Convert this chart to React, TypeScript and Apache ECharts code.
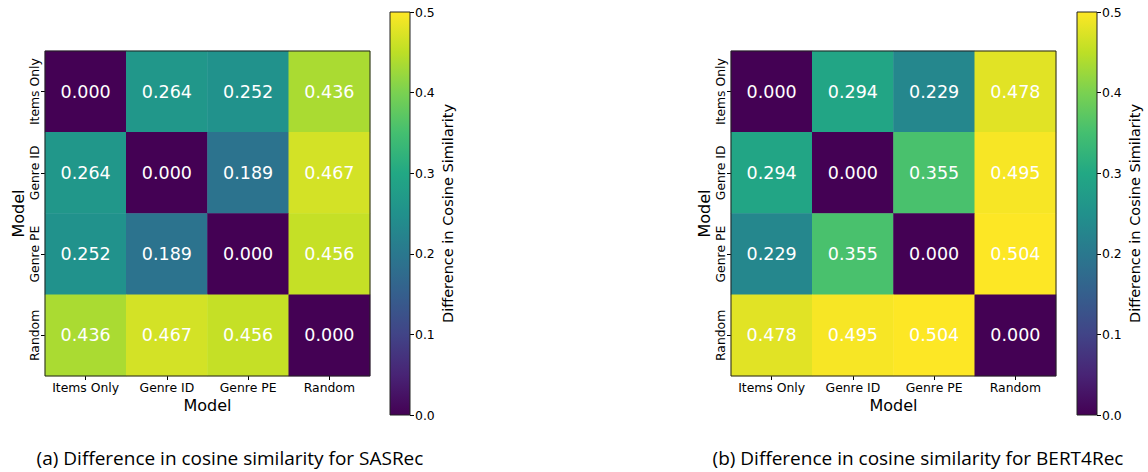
import React, { useEffect, useRef } from "react";
import * as echarts from "echarts";

const models = ["Items Only", "Genre ID", "Genre PE", "Random"];
const sasrecValues = [
  [0.0, 0.264, 0.252, 0.436],
  [0.264, 0.0, 0.189, 0.467],
  [0.252, 0.189, 0.0, 0.456],
  [0.436, 0.467, 0.456, 0.0],
];
const bertValues = [
  [0.0, 0.294, 0.229, 0.478],
  [0.294, 0.0, 0.355, 0.495],
  [0.229, 0.355, 0.0, 0.504],
  [0.478, 0.495, 0.504, 0.0],
];
const colorbarMin = 0;
const colorbarMax = 0.5;
const colorbarStep = 0.1;
const captions = [
  "(a) Difference in cosine similarity for SASRec",
  "(b) Difference in cosine similarity for BERT4Rec",
];
const axisTitle = "Model";
const colorbarTitle = "Difference in Cosine Similarity";

const viridis = [
  "#440154", "#482475", "#414487", "#355f8d", "#2a788e", "#21918c",
  "#22a884", "#44bf70", "#7ad151", "#bddf26", "#fde725",
];

const FONT = "DejaVu Sans";

function toCells(m: number[][]) {
  const out: any[] = [];
  m.forEach((row, r) => row.forEach((v, c) => out.push([c, r, Math.min(v, colorbarMax)])));
  return out;
}
function labelsOf(m: number[][]) {
  return m.map((row) => row.map((v) => v.toFixed(3)));
}

export default function App() {
  const ref = useRef<HTMLDivElement>(null);
  useEffect(() => {
    document.body.style.margin = "0";
    const chart = echarts.init(ref.current!, undefined, { renderer: "svg" });
    const mats = [sasrecValues, bertValues];
    const heatGrids = [
      { left: 45, top: 51, width: 325, height: 325 },
      { left: 731, top: 51, width: 325, height: 325 },
    ];
    const cbGrids = [
      { left: 390, top: 12, width: 20, height: 403 },
      { left: 1077, top: 12, width: 20, height: 403 },
    ];
    const grid: any[] = [];
    const xAxis: any[] = [];
    const yAxis: any[] = [];
    const series: any[] = [];
    const gradient = new echarts.graphic.LinearGradient(
      0, 1, 0, 0,
      viridis.map((c, i) => ({ offset: i / (viridis.length - 1), color: c }))
    );
    mats.forEach((m, k) => {
      const gi = grid.length;
      grid.push({ ...heatGrids[k], show: true, borderColor: "#222", borderWidth: 1, backgroundColor: "transparent", z: 5 });
      xAxis.push({
        type: "category", gridIndex: gi, data: models,
        axisLine: { show: false },
        axisTick: { show: true, alignWithLabel: true, interval: 0, length: 4, lineStyle: { color: "#000" } },
        axisLabel: { color: "#000", fontFamily: FONT, fontSize: 12.4, margin: 5, interval: 0 },
        splitLine: { show: false },
        name: axisTitle, nameLocation: "middle", nameGap: 20,
        nameTextStyle: { color: "#000", fontFamily: FONT, fontSize: 16 },
      });
      yAxis.push({
        type: "category", gridIndex: gi, data: models, inverse: true,
        axisLine: { show: false },
        axisTick: { show: true, alignWithLabel: true, interval: 0, length: 4, lineStyle: { color: "#000" } },
        axisLabel: { color: "#000", fontFamily: FONT, fontSize: 12.4, rotate: 90, margin: 5, interval: 0 },
        splitLine: { show: false },
        name: axisTitle, nameLocation: "middle", nameGap: 19, nameRotate: 90,
        nameTextStyle: { color: "#000", fontFamily: FONT, fontSize: 16 },
      });
      const labels = labelsOf(m);
      series.push({
        type: "heatmap", xAxisIndex: gi, yAxisIndex: gi,
        data: toCells(m),
        label: {
          show: true, color: "#fff", fontFamily: FONT, fontSize: 17.5,
          formatter: (p: any) => labels[p.data[1]][p.data[0]],
        },
        itemStyle: { borderWidth: 0 },
        emphasis: { disabled: true },
      });
      const ci = grid.length;
      grid.push({ ...cbGrids[k], show: true, borderColor: "#222", borderWidth: 1, backgroundColor: "transparent", z: 5 });
      xAxis.push({ type: "category", gridIndex: ci, data: ["cb"], show: false, boundaryGap: false });
      yAxis.push({
        type: "value", gridIndex: ci, position: "right",
        min: colorbarMin, max: colorbarMax, interval: colorbarStep,
        axisLine: { show: false },
        axisTick: { show: true, length: 4, lineStyle: { color: "#000" } },
        axisLabel: { color: "#000", fontFamily: FONT, fontSize: 12.4, margin: 5, formatter: (v: number) => v.toFixed(1) },
        splitLine: { show: false },
        name: colorbarTitle, nameLocation: "middle", nameGap: 30, nameRotate: 90,
        nameTextStyle: { color: "#000", fontFamily: FONT, fontSize: 14.5 },
      });
      series.push({
        type: "bar", xAxisIndex: ci, yAxisIndex: ci,
        data: [colorbarMax], barWidth: "100%",
        itemStyle: { color: gradient },
        silent: true,
      });
    });
    chart.setOption({
      animation: false,
      grid, xAxis, yAxis, series,
      visualMap: {
        show: false, type: "continuous", min: colorbarMin, max: colorbarMax,
        seriesIndex: [0, 2], dimension: 2,
        inRange: { color: viridis },
      },
      graphic: [
        { type: "text", x: 230, y: 458, style: { text: captions[0], fill: "#000", font: "19px 'Open Sans'", textAlign: "center", textVerticalAlign: "middle" } },
        { type: "text", x: 918, y: 458, style: { text: captions[1], fill: "#000", font: "19px 'Open Sans'", textAlign: "center", textVerticalAlign: "middle" } },
      ],
    });
    return () => chart.dispose();
  }, []);
  return <div ref={ref} style={{ width: 1148, height: 472 }} />;
}
